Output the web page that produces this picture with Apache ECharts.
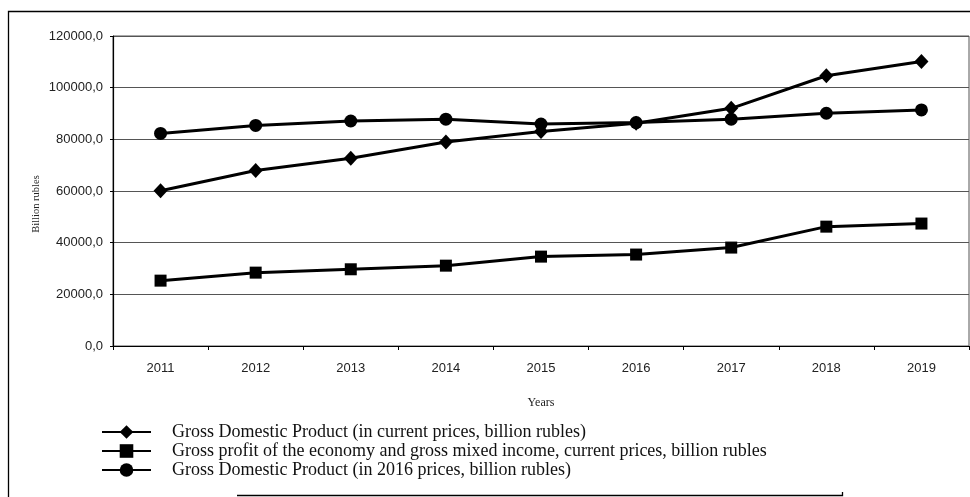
<!DOCTYPE html>
<html>
<head>
<meta charset="utf-8">
<script src="https://cdn.jsdelivr.net/npm/echarts@6/dist/echarts.min.js"></script>
<style>
  html, body { margin: 0; padding: 0; background: #fff; }
  #chart { width: 970px; height: 497px; }
</style>
</head>
<body>
<div id="chart"></div>
<script>
// Years on the category axis
var years = ['2011', '2012', '2013', '2014', '2015', '2016', '2017', '2018', '2019'];

// Series values, billion rubles
var gdpCurrent = [60100, 67900, 72700, 79000, 83000, 86200, 92000, 104600, 110100];
var grossProfit = [25300, 28400, 29700, 31100, 34600, 35400, 38100, 46200, 47400];
var gdp2016 = [82300, 85400, 87100, 87800, 85900, 86500, 87800, 90100, 91400];

// Series names shown in the legend
var seriesNames = [
  'Gross Domestic Product (in current prices, billion rubles)',
  'Gross profit of the economy and gross mixed income, current prices, billion rubles',
  'Gross Domestic Product (in 2016 prices, billion rubles)'
];

// Y axis range
var yMin = 0, yMax = 120000, yStep = 20000;

var chart = echarts.init(document.getElementById('chart'), null, { renderer: 'canvas' });

function lineSeries(name, data, symbol, size) {
  return {
    name: name,
    type: 'line',
    data: data,
    symbol: symbol,
    symbolSize: size,
    showAllSymbol: true,
    lineStyle: { color: '#000', width: 3 },
    itemStyle: { color: '#000', borderWidth: 0 },
    emphasis: { disabled: true },
    animation: false,
    z: 3
  };
}

chart.setOption({
  animation: false,
  backgroundColor: '#fff',
  grid: {
    left: 113, right: 1, top: 36, bottom: 151,
    show: true, borderColor: '#555', borderWidth: 1
  },
  xAxis: {
    type: 'category',
    data: years,
    boundaryGap: true,
    name: 'Years',
    nameLocation: 'middle',
    nameGap: 51,
    nameTextStyle: { fontFamily: 'Liberation Serif', fontSize: 12, color: '#222' },
    axisLine: { lineStyle: { color: '#000', width: 1.2 } },
    axisTick: { show: true, length: 4, lineStyle: { color: '#000' } },
    axisLabel: { fontFamily: 'Liberation Sans', fontSize: 13, color: '#222', margin: 16 },
    splitLine: { show: false }
  },
  yAxis: {
    type: 'value',
    min: yMin, max: yMax, interval: yStep,
    axisLine: { show: true, lineStyle: { color: '#000', width: 1.2 } },
    axisTick: { show: true, length: 3, lineStyle: { color: '#000' } },
    axisLabel: {
      fontFamily: 'Liberation Sans', fontSize: 13, color: '#222', margin: 10,
      formatter: function (v) { return v + ',0'; }
    },
    splitLine: { show: true, lineStyle: { color: '#555', width: 1 } }
  },
  legend: {
    orient: 'vertical',
    left: 96,
    top: 418,
    itemWidth: 49,
    itemHeight: 17,
    itemGap: 1,
    selectedMode: false,
    textStyle: {
      fontFamily: 'Liberation Serif', fontSize: 18, color: '#111',
      lineHeight: 18,
      padding: [0, 0, 0, 16]
    },
    data: seriesNames
  },
  graphic: [
    {
      type: 'rect',
      shape: { x: 8.5, y: 11.5, width: 980, height: 600 },
      style: { fill: 'none', stroke: '#000', lineWidth: 1.3 },
      silent: true
    },
    {
      type: 'text',
      x: 36, y: 204,
      rotation: Math.PI / 2,
      style: {
        text: 'Billion rubles',
        fontFamily: 'Liberation Serif', fontSize: 10.5, fill: '#222',
        align: 'center', verticalAlign: 'middle'
      },
      silent: true
    },
    {
      type: 'polyline',
      shape: { points: [[237, 495.5], [842.5, 495.5], [842.5, 492]] },
      style: { fill: 'none', stroke: '#000', lineWidth: 1.3 },
      silent: true
    }
  ],
  series: [
    lineSeries(seriesNames[0], gdpCurrent, 'diamond', [14, 15]),
    lineSeries(seriesNames[1], grossProfit, 'rect', 12),
    lineSeries(seriesNames[2], gdp2016, 'circle', 13)
  ]
});
</script>
</body>
</html>
